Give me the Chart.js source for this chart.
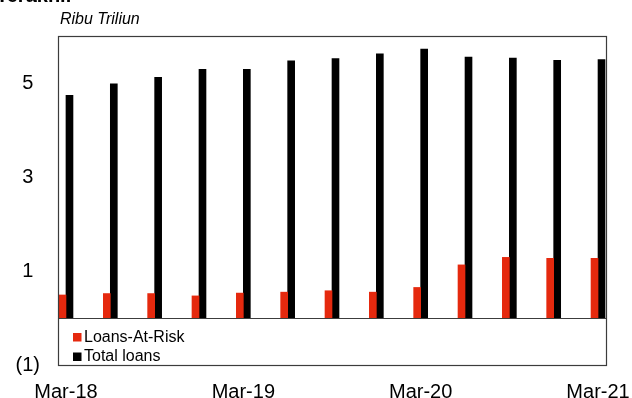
<!DOCTYPE html>
<html>
<head>
<meta charset="utf-8">
<script src="https://cdn.jsdelivr.net/npm/chart.js@4.4.0/dist/chart.umd.min.js"></script>
<style>
  body { margin: 0; background: #fff; }
  #wrap { position: relative; width: 632px; height: 398px; overflow: hidden; font-family: Arial, "Liberation Sans", sans-serif; }
  #title { position: absolute; left: -4px; top: -16px; font-weight: bold; font-size: 20px; color: #000; white-space: nowrap; }
  #unit { position: absolute; left: 60px; top: 10px; font-style: italic; font-size: 16px; color: #000; }
</style>
</head>
<body>
<div id="wrap">
  <div id="title">Terakhir</div>
  <div id="unit">Ribu Triliun</div>
  <canvas id="myChart" width="632" height="398"></canvas>
</div>
<script>
// kuartal, Mar-18 s/d Mar-21
var kuartal = ['Mar-18', 'Jun-18', 'Sep-18', 'Dec-18', 'Mar-19', 'Jun-19', 'Sep-19', 'Dec-19',
               'Mar-20', 'Jun-20', 'Sep-20', 'Dec-20', 'Mar-21'];
var loansAtRisk = [0.49, 0.52, 0.52, 0.47, 0.53, 0.55, 0.58, 0.55, 0.65, 1.13, 1.29, 1.27, 1.27];
var totalLoans = [4.74, 4.98, 5.12, 5.29, 5.29, 5.47, 5.52, 5.62, 5.72, 5.55, 5.53, 5.48, 5.50];
var xTicks = [0, 4, 8, 12];
var yTicks = [-1, 1, 3, 5];

var toPoints = arr => arr.map((v, i) => ({ x: i, y: v }));

// kotak plot, garis nol, legenda di dalam kotak
const bingkai = {
    id: 'bingkai',
    afterDatasetsDraw(chart) {
        const ctx = chart.ctx;
        const a = chart.chartArea;
        const y0 = chart.scales.y.getPixelForValue(0);
        ctx.save();
        ctx.strokeStyle = '#3c3c3c';
        ctx.lineWidth = 1.2;
        ctx.strokeRect(a.left + 0.5, a.top + 0.5, a.right - a.left, a.bottom - a.top);
        ctx.beginPath();
        ctx.moveTo(a.left, y0 + 0.5);
        ctx.lineTo(a.right, y0 + 0.5);
        ctx.stroke();

        ctx.font = '16px Arial, "Liberation Sans", sans-serif';
        ctx.textBaseline = 'middle';
        chart.data.datasets.forEach((ds, i) => {
            const yy = a.bottom - 27.5 + i * 19.5;
            ctx.fillStyle = ds.backgroundColor;
            ctx.fillRect(a.left + 15, yy - 4.5, 8.5, 8.5);
            ctx.fillStyle = '#000';
            ctx.fillText(ds.label, a.left + 26, yy);
        });
        ctx.restore();
    }
};

var ctx = document.getElementById('myChart').getContext('2d');
var chart = new Chart(ctx, {
    type: 'bar',
    data: {
        datasets: [{
            label: 'Loans-At-Risk',
            backgroundColor: '#e5290e',
            data: toPoints(loansAtRisk),
        }, {
            label: 'Total loans',
            backgroundColor: '#000000',
            data: toPoints(totalLoans),
        }]
    },
    options: {
        responsive: false,
        animation: false,
        layout: { padding: { top: 36, right: 26, left: 0, bottom: 0 } },
        datasets: { bar: { barThickness: 7 } },
        plugins: { legend: { display: false }, tooltip: { enabled: false } },
        scales: {
            x: {
                type: 'linear',
                min: -0.18,
                max: 12.18,
                offset: false,
                grid: { display: false, offset: false, drawTicks: false, tickLength: 0 },
                border: { display: false },
                afterBuildTicks: s => { s.ticks = xTicks.map(v => ({ value: v })); },
                afterFit: s => { s.height = 33; s.paddingLeft = 0; s.paddingRight = 0; },
                ticks: {
                    maxRotation: 0,
                    autoSkip: false,
                    padding: 15,
                    color: '#000',
                    font: { family: 'Arial, "Liberation Sans", sans-serif', size: 20 },
                    callback: v => kuartal[v]
                }
            },
            y: {
                min: -1,
                max: 6,
                grid: { display: false, drawTicks: false, tickLength: 0 },
                border: { display: false },
                afterBuildTicks: s => { s.ticks = yTicks.map(v => ({ value: v })); },
                afterFit: s => { s.width = 58; s.paddingTop = 0; s.paddingBottom = 0; },
                ticks: {
                    crossAlign: 'center',
                    padding: 18,
                    color: '#000',
                    font: { family: 'Arial, "Liberation Sans", sans-serif', size: 20 },
                    callback: v => v < 0 ? '(' + Math.abs(v) + ')' : String(v)
                }
            }
        }
    },
    plugins: [bingkai]
});
</script>
</body>
</html>
